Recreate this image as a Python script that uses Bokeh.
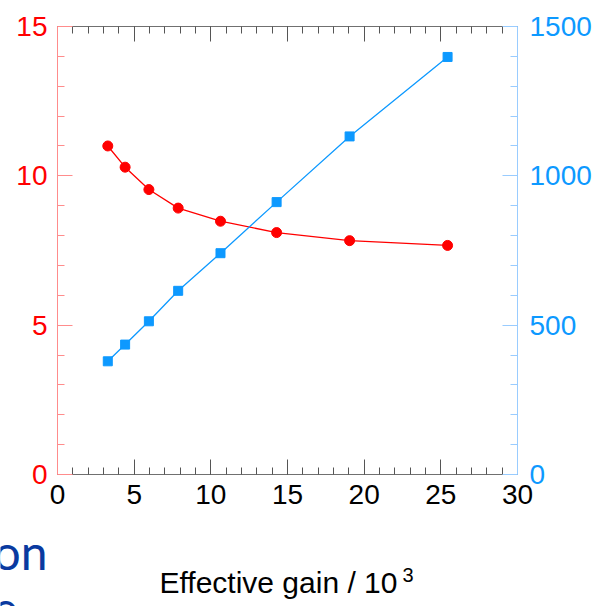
from bokeh.plotting import figure
from bokeh.models import Range1d, LinearAxis, SingleIntervalTicker, Label
from bokeh.embed import file_html
from bokeh.resources import INLINE

# data
gain = [3.28, 4.41, 5.96, 7.87, 10.63, 14.29, 19.05, 25.44]
red_vals = [11.0, 10.29, 9.54, 8.92, 8.48, 8.10, 7.83, 7.67]
blue_vals = [379, 435, 513, 615, 741, 912, 1132, 1398]
x_lim = [0, 30]
left_lim = [0, 15]
right_lim = [0, 1500]
x_label = "Effective gain / 10"
x_label_sup = "3"

RED = "#ff0000"
RED_AX = "#ff8c8c"
BLUE = "#0d99ff"
BLUE_AX = "#99ccff"
GRAY = "#707070"
FONT = "Liberation Sans"

# page / plot-box geometry in pixels
W, H = 602, 606
BOX_L, BOX_R, BOX_T, BOX_B = 57, 517, 26, 474

sx = (BOX_R - BOX_L) / (x_lim[1] - x_lim[0])
sy = (BOX_B - BOX_T) / (left_lim[1] - left_lim[0])
sr = (BOX_B - BOX_T) / (right_lim[1] - right_lim[0])

def px_to_x(px):
    return x_lim[0] + (px - BOX_L) / sx

def py_to_y(py):
    return left_lim[0] + (BOX_B - py) / sy

xr = Range1d(px_to_x(0), px_to_x(W))
yr_left = Range1d(py_to_y(H), py_to_y(0))
yr_right = Range1d(right_lim[0] - (H - BOX_B) / sr, right_lim[0] + BOX_B / sr)

p = figure(width=W, height=H, x_range=xr, y_range=yr_left,
           output_backend="svg", toolbar_location=None,
           x_axis_location=None, y_axis_location=None, min_border=0)
p.extra_y_ranges = {"right": yr_right}
p.xgrid.visible = False
p.ygrid.visible = False
p.outline_line_color = None
p.background_fill_color = "white"
p.border_fill_color = "white"

def style(ax, line_color, tick_color, label_color, interval, fs="28px", standoff=10):
    ax.ticker = SingleIntervalTicker(interval=interval, num_minor_ticks=5)
    ax.axis_line_color = line_color
    ax.axis_line_width = 1
    ax.major_tick_line_color = tick_color
    ax.minor_tick_line_color = tick_color
    ax.major_tick_in = 15
    ax.major_tick_out = 0
    ax.minor_tick_in = 7
    ax.minor_tick_out = 0
    ax.major_label_text_color = label_color
    ax.major_label_text_font = FONT
    ax.major_label_text_font_size = fs
    ax.major_label_standoff = standoff

# bottom axis
xb = LinearAxis(fixed_location=left_lim[0], bounds=tuple(x_lim))
style(xb, GRAY, "#555555", "black", 5)
p.add_layout(xb, "below")

# top axis (ticks only)
xt = LinearAxis(fixed_location=left_lim[1], bounds=tuple(x_lim))
style(xt, GRAY, "#555555", None, 5, fs="1px", standoff=0)
p.add_layout(xt, "above")

# left axis
yl = LinearAxis(fixed_location=x_lim[0], bounds=tuple(left_lim))
style(yl, RED_AX, RED_AX, RED, 5)
p.add_layout(yl, "left")

# right axis
yra = LinearAxis(y_range_name="right", fixed_location=x_lim[1], bounds=tuple(right_lim))
style(yra, BLUE_AX, BLUE_AX, BLUE, 500, standoff=12)
p.add_layout(yra, "right")

# series
p.line(gain, red_vals, line_color=RED, line_width=1.3)
p.scatter(gain, red_vals, marker="circle", size=10, fill_color=RED, line_color=RED)
p.line(gain, blue_vals, line_color=BLUE, line_width=1.3, y_range_name="right")
p.scatter(gain, blue_vals, marker="square", size=9, fill_color=BLUE, line_color=BLUE,
          y_range_name="right")

# x axis title with superscript
p.add_layout(Label(x=px_to_x(159), y=py_to_y(582), text=x_label, text_font=FONT,
                   text_font_size="30px", text_color="black",
                   text_baseline="middle", text_align="left"))
p.add_layout(Label(x=px_to_x(402), y=py_to_y(574), text=x_label_sup, text_font=FONT,
                   text_font_size="20px", text_color="black",
                   text_baseline="middle", text_align="left"))

# background slide text fragments
p.add_layout(Label(x=px_to_x(-7), y=py_to_y(551), text="on", text_font="Lato",
                   text_font_size="48px", text_color="#0a3aa0",
                   text_baseline="middle", text_align="left"))
p.add_layout(Label(x=px_to_x(-8), y=py_to_y(608), text="e", text_font="Lato",
                   text_font_size="48px", text_color="#0a3aa0",
                   text_baseline="middle", text_align="left"))

open("out.html", "w").write(file_html(p, INLINE))
